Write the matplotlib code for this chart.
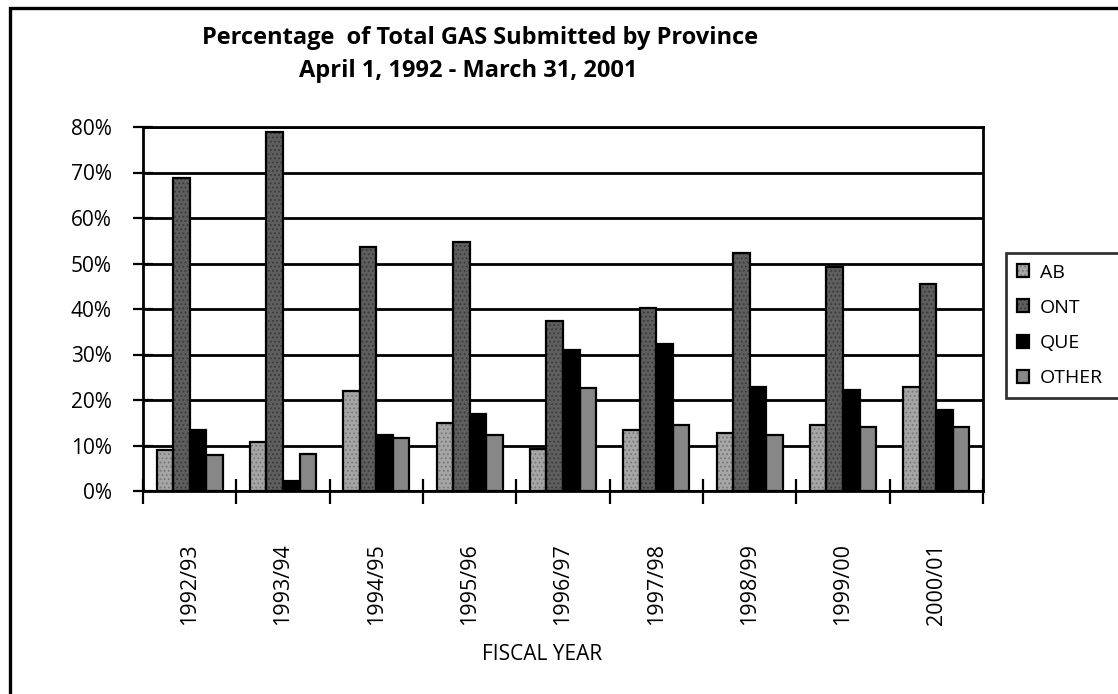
import matplotlib
matplotlib.use("Agg")
import matplotlib.pyplot as plt
import matplotlib.patches as mpatches
from matplotlib.legend_handler import HandlerTuple
import numpy as np

years = ["1992/93", "1993/94", "1994/95", "1995/96", "1996/97",
         "1997/98", "1998/99", "1999/00", "2000/01"]
ab    = [9.0, 10.8, 22.0, 15.0, 9.2, 13.5, 12.8, 14.5, 22.9]
ont   = [68.9, 79.0, 53.7, 54.8, 37.4, 40.3, 52.2, 49.2, 45.6]
que   = [13.4, 2.3, 12.3, 16.9, 31.0, 32.2, 22.9, 22.3, 17.7]
other = [7.9, 8.1, 11.6, 12.2, 22.6, 14.4, 12.2, 14.1, 14.1]
series_names = ["AB", "ONT", "QUE", "OTHER"]
ytick_vals = [0, 10, 20, 30, 40, 50, 60, 70, 80]

FONT = ["Open Sans", "DejaVu Sans"]
plt.rcParams["font.family"] = FONT
plt.rcParams["hatch.linewidth"] = 0.8

W, H = 1118, 694
fig = plt.figure(figsize=(W / 100, H / 100), dpi=100)
ax = fig.add_axes([143 / W, 1 - 491 / H, (983 - 143) / W, (491 - 127) / H])

faces = ["#a6a6a6", "#5e5e5e", "#000000", "#878787"]
hatch_cols = ["#787878", "#3a3a3a", "#000000", "#878787"]
hatches = ["....", "....", None, None]
data = [ab, ont, que, other]
width = 0.177
x = np.arange(len(years)) + 0.5
handles = []
for k, vals in enumerate(data):
    pos = x + (k - 1.5) * width
    fill = ax.bar(pos, vals, width, color=faces[k], edgecolor=hatch_cols[k],
                  hatch=hatches[k], linewidth=0, zorder=3)
    outline = ax.bar(pos, vals, width, fill=False, edgecolor="black",
                     linewidth=1.6, zorder=4)
    handles.append((fill[0], outline[0]))

ax.set_xlim(0, len(years))
ax.set_ylim(0, 80)
ax.set_yticks(ytick_vals)
ax.set_yticklabels([f"{v}%" for v in ytick_vals], fontsize=15)
ax.yaxis.grid(True, color="black", linewidth=2.0, zorder=1)
ax.set_axisbelow(True)
ax.tick_params(axis="y", direction="inout", length=15, width=1.6, pad=15)
ax.set_xticks(np.arange(len(years) + 1))
ax.set_xticklabels([])
ax.tick_params(axis="x", direction="inout", length=18, width=1.6)
for xi, lab in zip(x, years):
    ax.text(xi, -11.5, lab, rotation=90, ha="center", va="top", fontsize=15.5,
            transform=ax.transData)
for s in ax.spines.values():
    s.set_linewidth(2.0)
    s.set_color("black")

fig.text(542 / W, 1 - 655 / H, "FISCAL YEAR", ha="center", va="center", fontsize=15)
fig.text(480 / W, 1 - 38 / H, "Percentage  of Total GAS Submitted by Province",
         ha="center", va="center", fontsize=17, fontweight="bold")
fig.text(468 / W, 1 - 71 / H, "April 1, 1992 - March 31, 2001",
         ha="center", va="center", fontsize=17, fontweight="bold")

leg_top = 1 - 253 / H
leg_h = 150 / H
leg = fig.legend(handles=handles, labels=series_names, loc="upper left",
                 bbox_to_anchor=(1006 / W, leg_top - leg_h, 0.2, leg_h),
                 mode="expand", fontsize=14,
                 handler_map={tuple: HandlerTuple(ndivide=1)},
                 frameon=True, fancybox=False, edgecolor="black",
                 handlelength=0.65, handleheight=0.65, handletextpad=0.55,
                 labelspacing=0.88, borderpad=0.55, borderaxespad=0)
leg.get_frame().set_linewidth(2.0)

border = mpatches.Rectangle((9.5 / W, -0.2), 1.5, 1.2 - 8.5 / H,
                            transform=fig.transFigure, fill=False,
                            edgecolor="black", linewidth=2.4)
fig.patches.append(border)

fig.savefig("out.png", dpi=100)
